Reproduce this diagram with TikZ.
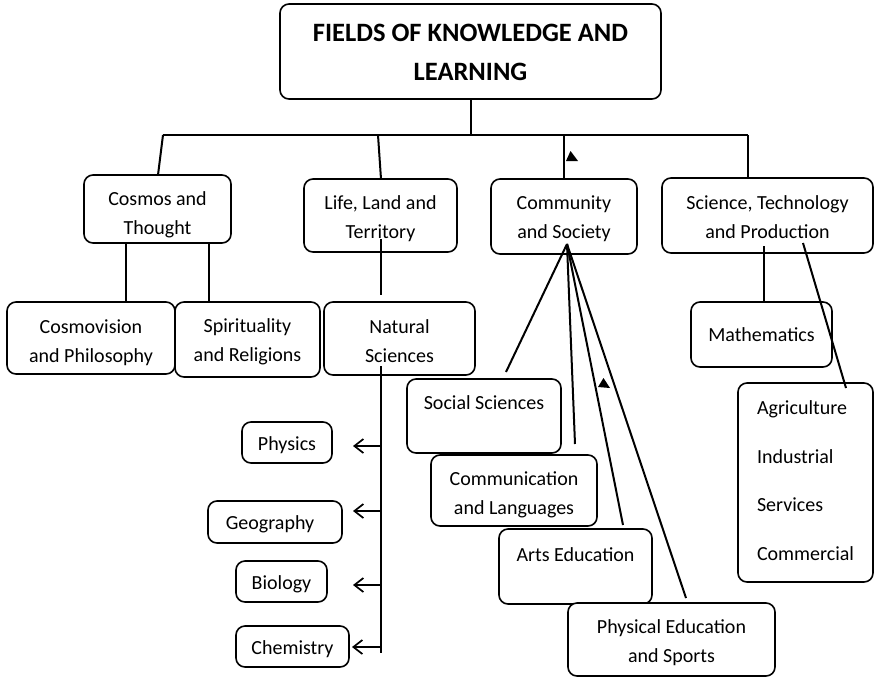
\documentclass[tikz,border=0pt]{standalone}
\usepackage{fontspec}
\setmainfont{Carlito}
\usetikzlibrary{arrows.meta}
\begin{document}
\begin{tikzpicture}[x=1pt,y=-1pt,
  bx/.style={draw, line width=1.6pt, rounded corners=9pt, fill=white, inner sep=0pt},
  tx/.style={align=center, inner sep=0pt, font=\fontsize{20}{29}\selectfont},
  sz/.style 2 args={minimum width=#1pt, minimum height=#2pt},
  ln/.style={line width=2pt},
  ar/.style={line width=1.7pt, -{Straight Barb[length=9pt,width=14pt]}},
  tri/.style={fill=black}]
\useasboundingbox (0,0) rectangle (875,678);
% boxes
\node[bx, sz={381}{95}] (title) at (470.5,51.5) {};
\node[tx, font=\fontsize{26.5}{38.5}\selectfont\bfseries] (title-t) at ([yshift=-1pt]title) {FIELDS OF KNOWLEDGE AND\\LEARNING};
\node[bx, sz={147}{68}] (cosmos) at (157.5,209) {};
\node[tx] (cosmos-t) at ([yshift=-6pt]cosmos) {Cosmos and\\Thought};
\node[bx, sz={153}{73}] (life) at (380.5,215.5) {};
\node[tx] (life-t) at ([yshift=-3pt]life) {Life, Land and\\Territory};
\node[bx, sz={146}{75}] (comm) at (564,216.5) {};
\node[tx] (comm-t) at ([yshift=-2pt]comm) {Community\\and Society};
\node[bx, sz={211}{75}] (sci) at (767.5,215.5) {};
\node[tx] (sci-t) at ([yshift=-2pt]sci) {Science, Technology\\and Production};
\node[bx, sz={168}{72}] (cosmov) at (91,338) {};
\node[tx] (cosmov-t) at ([yshift=-4.5pt]cosmov) {Cosmovision\\and Philosophy};
\node[bx, sz={145}{75}] (spirit) at (247.5,339.5) {};
\node[tx] (spirit-t) at ([yshift=-2.5pt]spirit) {Spirituality\\and Religions};
\node[bx, sz={151}{73}] (natural) at (399.5,338.5) {};
\node[tx] (natural-t) at ([yshift=-3pt]natural) {Natural\\Sciences};
\node[bx, sz={141}{65}] (math) at (761.5,334.5) {};
\node[tx] (math-t) at (math) {Mathematics};
\node[bx, sz={135}{199}] (agri) at (805.5,482.5) {};
\node[tx, align=left, font=\fontsize{20}{48.7}\selectfont] (agri-t) at ([yshift=2pt]agri) {Agriculture\\Industrial\\Services\\Commercial};
\node[bx, sz={154}{74}] (social) at (484,416) {};
\node[tx] (social-t) at ([yshift=-1pt]social) {Social Sciences\\\mbox{}};
\node[bx, sz={166}{71}] (commun) at (514,490.5) {};
\node[tx] (commun-t) at ([yshift=-4pt]commun) {Communication\\and Languages};
\node[bx, sz={153}{75}] (arts) at (575.5,566.5) {};
\node[tx] (arts-t) at ([yshift=-3pt]arts) {Arts Education\\\mbox{}};
\node[bx, sz={207}{73}] (physed) at (671.5,639.5) {};
\node[tx] (physed-t) at ([yshift=-3.5pt]physed) {Physical Education\\and Sports};
\node[bx, sz={90}{41}] (physics) at (287,442.5) {};
\node[tx] (physics-t) at ([yshift=-3pt]physics) {Physics};
\node[bx, sz={134}{42}] (geo) at (275,522) {};
\node[tx] (geo-t) at ([xshift=-5pt,yshift=-2pt]geo) {Geography};
\node[bx, sz={91}{41}] (bio) at (281.5,581.5) {};
\node[tx] (bio-t) at ([yshift=-3pt]bio) {Biology};
\node[bx, sz={113}{41}] (chem) at (292.5,646.5) {};
\node[tx] (chem-t) at ([yshift=-3pt]chem) {Chemistry};
% coordinates
\coordinate (barL) at (163,135);
\coordinate (barR) at (748,135);
\coordinate (bLife) at (378,135);
\coordinate (bComm) at (564,135);
\coordinate (cosTop) at (158,175);
\coordinate (lifeTop) at (381,179);
\coordinate (cA) at (126,243);
\coordinate (cB) at (209,243);
\coordinate (lifeIn) at (381,239);
\coordinate (natTop) at (381,295);
\coordinate (natIn) at (381,366);
\coordinate (natEnd) at (381,653);
\coordinate (commIn) at (567,244);
\coordinate (socEnd) at (506,372);
\coordinate (comEnd) at (575,444);
\coordinate (artEnd) at (623,525);
\coordinate (pheEnd) at (686,598);
\coordinate (sciA) at (764,246);
\coordinate (sciB) at (803,243);
\coordinate (agEnd) at (846,388);
% tree top
\draw[ln] (title.south) -- (title.south |- barL);
\draw[ln] (barL) -- (barR);
\draw[ln] (barL) -- (cosTop);
\draw[ln] (bLife) -- (lifeTop);
\draw[ln] (bComm) -- (comm.north);
\draw[ln] (barR) -- (sci.north -| barR);
\fill[tri] (566,161) -- (578,161) -- (570.5,151) -- cycle;
% cosmos children
\draw[ln] (cA) -- (cA |- cosmov.north);
\draw[ln] (cB) -- (cB |- spirit.north);
% life / natural
\draw[ln] (lifeIn) -- (natTop);
\draw[ln] (natIn) -- (natEnd);
\coordinate (a1) at (381,446); \coordinate (t1) at (353,446);
\coordinate (a2) at (381,511); \coordinate (t2) at (353,511);
\coordinate (a3) at (381,585); \coordinate (t3) at (353,585);
\coordinate (a4) at (381,647); \coordinate (t4) at (352,647);
\draw[ar] (a1) -- (t1);
\draw[ar] (a2) -- (t2);
\draw[ar] (a3) -- (t3);
\draw[ar] (a4) -- (t4);
% community
\draw[ln] (commIn) -- (socEnd);
\draw[ln] (commIn) -- (comEnd);
\draw[ln] (commIn) -- (artEnd);
\draw[ln] (commIn) -- (pheEnd);
\fill[tri] (598,387) -- (610,388) -- (603.5,378) -- cycle;
% science
\draw[ln] (sciA) -- (sciA |- math.north);
\draw[ln] (sciB) -- (agEnd);
\end{tikzpicture}
\end{document}
